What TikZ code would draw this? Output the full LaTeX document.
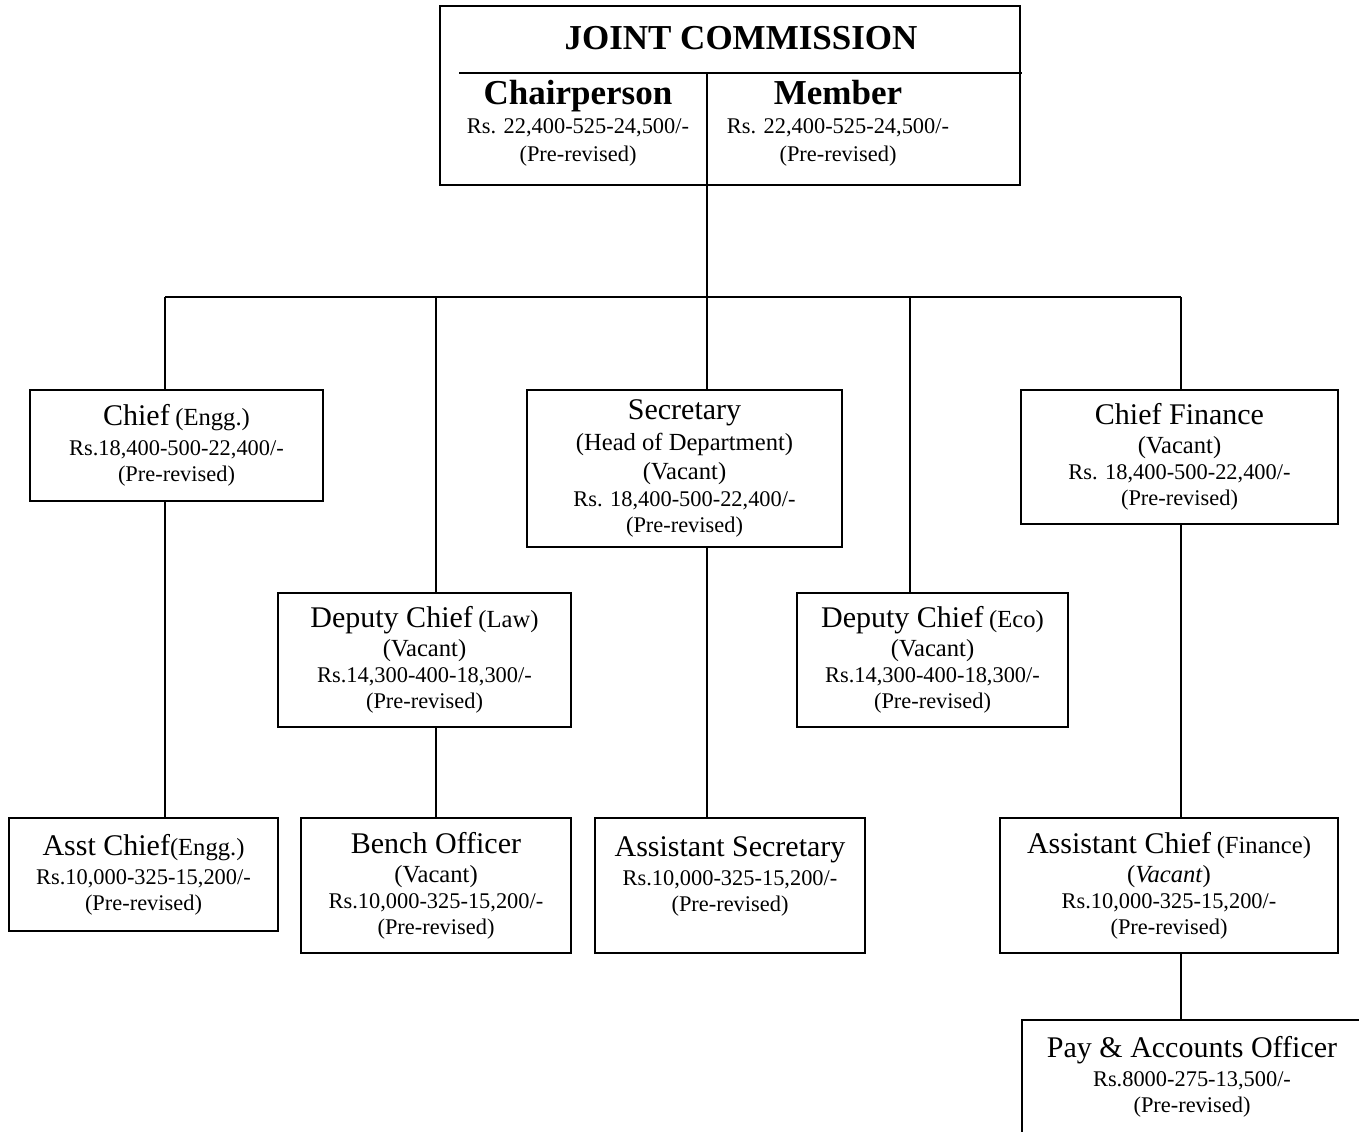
\documentclass[tikz,border=0pt]{standalone}
\usepackage{fontspec}
\setmainfont{Liberation Serif}
\usetikzlibrary{positioning}

\tikzset{
  post/.style={draw, line width=1pt, align=center, inner sep=0pt,
    font=\fontsize{11.2}{13}\selectfont},
  link/.style={line width=1pt},
}
\newcommand{\postname}[1]{{\fontsize{15}{17}\selectfont #1}}
\newcommand{\postnote}[1]{{\fontsize{12.3}{14}\selectfont #1}}
\newcommand{\jcname}[1]{{\fontsize{17.5}{20}\selectfont\bfseries #1}}

\begin{document}
\begin{tikzpicture}[x=0.5pt,y=-0.5pt]
    \useasboundingbox (0,0) rectangle (1359,1131);

    \node   [draw, line width=1pt, minimum width=290pt, minimum height=89.5pt] (jc) at (730,95.5) {};
    \node   (title) at (741,38) {\jcname{JOINT COMMISSION}};
    \node   [align=center, inner sep=0pt, anchor=north, font=\fontsize{11.2}{13}\selectfont] (chair) at (578,80)
            {\jcname{Chairperson}\\[1.5pt] Rs. 22,400-525-24,500/-\\[1pt] (Pre-revised)};
    \node   [align=center, inner sep=0pt, anchor=north, font=\fontsize{11.2}{13}\selectfont] (member) at (838,80)
            {\jcname{Member}\\[1.5pt] Rs. 22,400-525-24,500/-\\[1pt] (Pre-revised)};

    \node   [post, minimum width=146.5pt, minimum height=55.5pt] (chiefE) at (176.5,445.5)
            {\postname{Chief} \postnote{(Engg.)}\\[2pt] Rs.18,400-500-22,400/-\\ (Pre-revised)};
    \node   [post, minimum width=157.5pt, minimum height=78.5pt] (sec) at (684.5,468.5)
            {\postname{Secretary}\\[2.5pt] \postnote{(Head of Department)}\\[1.5pt] \postnote{(Vacant)}\\[0.5pt] Rs. 18,400-500-22,400/-\\ (Pre-revised)};
    \node   [post, minimum width=158.5pt, minimum height=67pt] (chiefF) at (1179.5,457)
            {\postname{Chief Finance}\\[1.5pt] \postnote{(Vacant)}\\ Rs. 18,400-500-22,400/-\\ (Pre-revised)};
    \node   [post, minimum width=146.5pt, minimum height=67pt] (depL) at (424.5,660)
            {\postname{Deputy Chief} \postnote{(Law)}\\[1.5pt] \postnote{(Vacant)}\\ Rs.14,300-400-18,300/-\\ (Pre-revised)};
    \node   [post, minimum width=135.5pt, minimum height=67pt] (depE) at (932.5,660)
            {\postname{Deputy Chief} \postnote{(Eco)}\\[1.5pt] \postnote{(Vacant)}\\ Rs.14,300-400-18,300/-\\ (Pre-revised)};

    \node   [post, minimum width=134.5pt, minimum height=56.5pt] (asstE) at (143.5,874.5)
            {\postname{Asst Chief}\postnote{(Engg.)}\\[1.5pt] Rs.10,000-325-15,200/-\\ (Pre-revised)};
    \node   [post, minimum width=135pt, minimum height=67.5pt] (bench) at (436,885.5)
            {\postname{Bench Officer}\\[1.5pt] \postnote{(Vacant)}\\ Rs.10,000-325-15,200/-\\ (Pre-revised)};
    \node   [post, minimum width=135pt, minimum height=67.5pt] (asstS) at (730,885.5)
            {\postname{Assistant Secretary}\\[1.5pt] Rs.10,000-325-15,200/-\\ (Pre-revised)\\[-2pt]};
    \node   [post, minimum width=169pt, minimum height=67.5pt] (asstF) at (1169,885.5)
            {\postname{Assistant Chief} \postnote{(Finance)}\\[1.5pt] \postnote{(\textit{Vacant})}\\ Rs.10,000-325-15,200/-\\ (Pre-revised)};
    \node   [post, minimum width=170pt, minimum height=57pt] (pay) at (1192,1077)
            {\postname{Pay \& Accounts Officer}\\[1.5pt] Rs.8000-275-13,500/-\\ (Pre-revised)};

    \coordinate (hub) at (707,297);
    \coordinate (b1) at (165,297);
    \coordinate (b2) at (436,297);
    \coordinate (b4) at (910,297);
    \coordinate (b5) at (1181,297);

    \draw   [link] (459,73) -- (1022,73);
    \draw   [link] (707,73) -- (jc.south -| hub);
    \draw   [link] (jc.south -| hub) -- (hub);
    \draw   [link] (b1) -- (b5);

    \foreach \b/\n in {b1/chiefE, b2/depL, hub/sec, b4/depE, b5/chiefF}
        \draw [link] (\b) -- (\b |- \n.north);

    \draw   [link] (b1 |- chiefE.south) -- (b1 |- asstE.north);
    \draw   [link] (b2 |- depL.south) -- (b2 |- bench.north);
    \draw   [link] (hub |- sec.south) -- (hub |- asstS.north);
    \draw   [link] (b5 |- chiefF.south) -- (b5 |- asstF.north);
    \draw   [link] (b5 |- asstF.south) -- (b5 |- pay.north);
\end{tikzpicture}
\end{document}
